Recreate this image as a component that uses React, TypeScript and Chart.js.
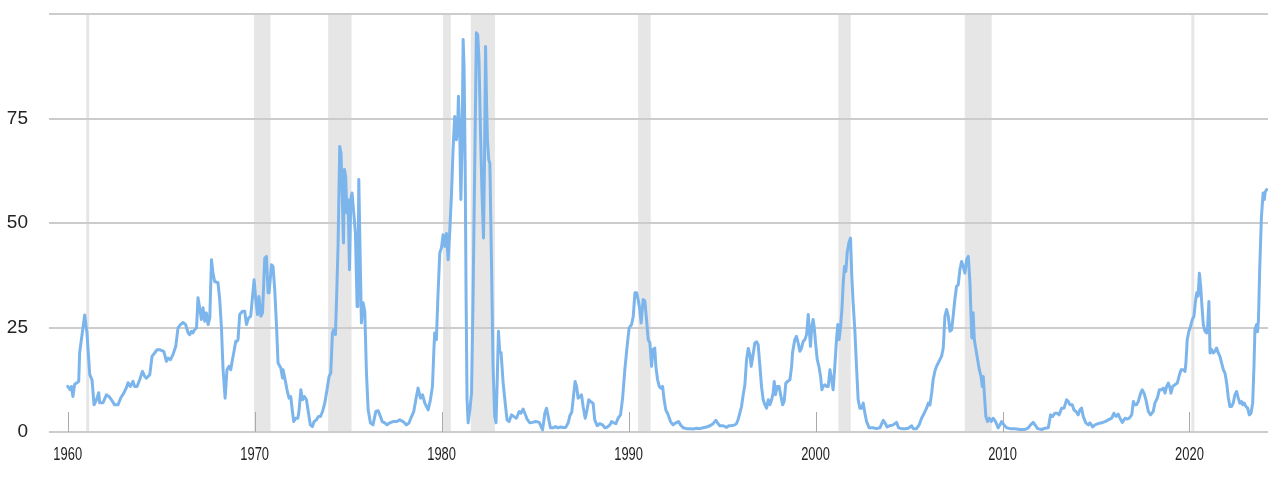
import React, { useEffect, useRef } from 'react';
import { Chart, registerables } from 'chart.js';

Chart.register(...registerables);

const YEARS = [
  1960.00, 1960.14, 1960.20, 1960.28, 1960.37, 1960.50, 1960.59, 1960.64, 1960.73, 1960.91,
  1961.03, 1961.18, 1961.30, 1961.41, 1961.54, 1961.66, 1961.71, 1961.89, 1962.07, 1962.21,
  1962.34, 1962.51, 1962.69, 1962.84, 1963.00, 1963.14, 1963.23, 1963.35, 1963.49, 1963.58,
  1963.71, 1963.85, 1964.00, 1964.12, 1964.21, 1964.39, 1964.51, 1964.65, 1964.78, 1964.92,
  1965.01, 1965.14, 1965.28, 1965.37, 1965.50, 1965.63, 1965.78, 1965.90, 1966.03, 1966.17,
  1966.31, 1966.44, 1966.53, 1966.62, 1966.70, 1966.79, 1966.89, 1966.97, 1967.06, 1967.15,
  1967.24, 1967.33, 1967.42, 1967.51, 1967.60, 1967.69, 1967.77, 1967.86, 1968.04, 1968.13,
  1968.22, 1968.31, 1968.42, 1968.52, 1968.63, 1968.72, 1968.81, 1968.88, 1968.99, 1969.06,
  1969.11, 1969.20, 1969.35, 1969.47, 1969.56, 1969.68, 1969.79, 1969.97, 1970.06, 1970.15,
  1970.23, 1970.33, 1970.42, 1970.54, 1970.63, 1970.72, 1970.77, 1970.90, 1970.98, 1971.07,
  1971.17, 1971.25, 1971.40, 1971.49, 1971.52, 1971.63, 1971.73, 1971.84, 1971.93, 1972.02,
  1972.09, 1972.20, 1972.31, 1972.37, 1972.47, 1972.56, 1972.66, 1972.77, 1972.88, 1972.98,
  1973.09, 1973.18, 1973.30, 1973.41, 1973.52, 1973.63, 1973.75, 1973.87, 1973.98, 1974.07,
  1974.16, 1974.23, 1974.32, 1974.38, 1974.46, 1974.55, 1974.62, 1974.70, 1974.75, 1974.80,
  1974.87, 1974.93, 1975.00, 1975.07, 1975.14, 1975.21, 1975.30, 1975.39, 1975.48, 1975.52,
  1975.57, 1975.64, 1975.71, 1975.80, 1975.89, 1975.98, 1976.07, 1976.19, 1976.33, 1976.48,
  1976.60, 1976.73, 1976.82, 1976.96, 1977.08, 1977.23, 1977.40, 1977.59, 1977.76, 1977.94,
  1978.12, 1978.26, 1978.39, 1978.51, 1978.62, 1978.74, 1978.87, 1978.98, 1979.10, 1979.28,
  1979.40, 1979.51, 1979.58, 1979.63, 1979.72, 1979.81, 1979.90, 1979.99, 1980.08, 1980.17,
  1980.26, 1980.35, 1980.44, 1980.53, 1980.61, 1980.70, 1980.79, 1980.85, 1980.90, 1980.97,
  1981.03, 1981.10, 1981.15, 1981.20, 1981.26, 1981.31, 1981.36, 1981.42, 1981.51, 1981.60,
  1981.68, 1981.77, 1981.86, 1981.93, 1982.00, 1982.08, 1982.17, 1982.24, 1982.29, 1982.35,
  1982.40, 1982.45, 1982.52, 1982.58, 1982.67, 1982.75, 1982.84, 1982.91, 1982.97, 1983.04,
  1983.11, 1983.18, 1983.29, 1983.42, 1983.50, 1983.61, 1983.74, 1983.86, 1984.00, 1984.15,
  1984.24, 1984.36, 1984.45, 1984.57, 1984.72, 1984.86, 1985.04, 1985.22, 1985.40, 1985.52,
  1985.61, 1985.72, 1985.82, 1985.96, 1986.09, 1986.23, 1986.36, 1986.50, 1986.64, 1986.77,
  1986.86, 1986.96, 1987.07, 1987.14, 1987.22, 1987.30, 1987.39, 1987.48, 1987.57, 1987.68,
  1987.78, 1987.87, 1987.96, 1988.10, 1988.19, 1988.32, 1988.46, 1988.61, 1988.73, 1988.87,
  1989.00, 1989.09, 1989.21, 1989.32, 1989.44, 1989.57, 1989.68, 1989.80, 1989.92, 1990.03,
  1990.16, 1990.25, 1990.34, 1990.43, 1990.51, 1990.60, 1990.67, 1990.78, 1990.87, 1990.96,
  1991.05, 1991.14, 1991.23, 1991.31, 1991.40, 1991.46, 1991.55, 1991.64, 1991.73, 1991.82,
  1991.90, 1991.99, 1992.12, 1992.24, 1992.38, 1992.53, 1992.67, 1992.78, 1992.92, 1993.10,
  1993.28, 1993.45, 1993.64, 1993.81, 1993.99, 1994.17, 1994.35, 1994.52, 1994.67, 1994.76,
  1994.88, 1995.06, 1995.24, 1995.36, 1995.51, 1995.68, 1995.77, 1995.86, 1995.95, 1996.04,
  1996.13, 1996.22, 1996.31, 1996.40, 1996.49, 1996.56, 1996.66, 1996.75, 1996.85, 1996.93,
  1997.02, 1997.11, 1997.20, 1997.29, 1997.38, 1997.47, 1997.56, 1997.65, 1997.73, 1997.79,
  1997.86, 1997.95, 1998.05, 1998.15, 1998.24, 1998.32, 1998.41, 1998.50, 1998.63, 1998.72,
  1998.77, 1998.89, 1998.98, 1999.07, 1999.16, 1999.25, 1999.34, 1999.43, 1999.52, 1999.61,
  1999.66, 1999.73, 1999.80, 1999.87, 1999.93, 2000.00, 2000.09, 2000.18, 2000.27, 2000.34,
  2000.41, 2000.50, 2000.59, 2000.68, 2000.77, 2000.86, 2000.94, 2001.03, 2001.12, 2001.19,
  2001.26, 2001.34, 2001.41, 2001.48, 2001.55, 2001.62, 2001.69, 2001.78, 2001.87, 2001.94,
  2002.01, 2002.10, 2002.19, 2002.28, 2002.37, 2002.46, 2002.55, 2002.64, 2002.73, 2002.87,
  2003.08, 2003.26, 2003.44, 2003.62, 2003.71, 2003.83, 2003.98, 2004.15, 2004.33, 2004.44,
  2004.60, 2004.78, 2004.96, 2005.14, 2005.22, 2005.40, 2005.54, 2005.67, 2005.81, 2005.94,
  2006.03, 2006.12, 2006.21, 2006.29, 2006.38, 2006.47, 2006.56, 2006.65, 2006.74, 2006.83,
  2006.92, 2007.01, 2007.10, 2007.19, 2007.28, 2007.36, 2007.45, 2007.54, 2007.63, 2007.72,
  2007.81, 2007.90, 2007.99, 2008.08, 2008.17, 2008.26, 2008.31, 2008.36, 2008.43, 2008.49,
  2008.58, 2008.67, 2008.76, 2008.85, 2008.92, 2008.97, 2009.02, 2009.11, 2009.20, 2009.29,
  2009.40, 2009.50, 2009.63, 2009.77, 2009.86, 2009.95, 2010.08, 2010.22, 2010.40, 2010.66,
  2010.93, 2011.20, 2011.38, 2011.50, 2011.64, 2011.77, 2011.88, 2012.09, 2012.27, 2012.45,
  2012.57, 2012.68, 2012.80, 2012.93, 2013.03, 2013.16, 2013.29, 2013.43, 2013.52, 2013.61,
  2013.73, 2013.82, 2013.93, 2014.05, 2014.14, 2014.23, 2014.32, 2014.45, 2014.59, 2014.68,
  2014.82, 2014.94, 2015.12, 2015.30, 2015.48, 2015.66, 2015.84, 2015.96, 2016.07, 2016.19,
  2016.28, 2016.41, 2016.55, 2016.67, 2016.78, 2016.91, 2017.00, 2017.08, 2017.17, 2017.26,
  2017.39, 2017.47, 2017.57, 2017.67, 2017.80, 2017.92, 2018.06, 2018.15, 2018.28, 2018.39,
  2018.51, 2018.60, 2018.69, 2018.78, 2018.87, 2018.96, 2019.01, 2019.10, 2019.22, 2019.35,
  2019.44, 2019.55, 2019.67, 2019.76, 2019.81, 2019.88, 2019.97, 2020.06, 2020.15, 2020.24,
  2020.31, 2020.39, 2020.46, 2020.53, 2020.60, 2020.67, 2020.74, 2020.83, 2020.92, 2020.97,
  2021.04, 2021.10, 2021.19, 2021.27, 2021.36, 2021.45, 2021.54, 2021.63, 2021.72, 2021.81,
  2021.90, 2021.99, 2022.07, 2022.16, 2022.25, 2022.34, 2022.43, 2022.52, 2022.61, 2022.70,
  2022.79, 2022.85, 2022.93, 2023.02, 2023.11, 2023.20, 2023.29, 2023.38, 2023.45, 2023.50,
  2023.59, 2023.64, 2023.69, 2023.76, 2023.85, 2023.94, 2024.00, 2024.05, 2024.13,
];

const VALUES = [
  10.9, 10.1, 10.9, 8.5, 11.4, 11.8, 12.1, 19.0, 22.0, 28.0,
  23.7, 13.7, 12.5, 6.5, 7.7, 9.4, 7.0, 7.0, 8.9, 8.5,
  7.7, 6.5, 6.5, 8.2, 9.3, 10.6, 11.8, 10.9, 12.1, 10.9,
  10.9, 12.5, 14.5, 13.3, 12.9, 13.7, 18.1, 18.9, 19.7, 19.7,
  19.5, 19.3, 16.9, 17.7, 17.3, 18.5, 20.5, 24.9, 25.7, 26.2,
  25.7, 23.7, 23.3, 24.1, 23.7, 24.5, 24.9, 32.1, 29.7, 26.9,
  29.7, 26.5, 28.5, 25.7, 27.3, 41.2, 38.0, 36.0, 35.7, 31.7,
  25.3, 14.9, 8.1, 14.9, 15.7, 14.9, 17.3, 18.9, 21.7, 21.7,
  22.1, 28.1, 28.9, 28.9, 25.7, 27.3, 27.7, 36.4, 31.7, 28.1,
  32.4, 27.7, 28.5, 41.6, 42.0, 33.3, 33.3, 40.0, 39.6, 34.4,
  25.3, 16.5, 15.3, 12.9, 14.9, 12.5, 10.1, 8.1, 8.5, 4.9,
  2.5, 3.3, 3.3, 4.9, 10.1, 7.7, 8.5, 7.7, 4.5, 1.7,
  1.3, 2.5, 2.9, 3.7, 3.7, 4.9, 6.9, 10.1, 13.3, 14.1,
  23.7, 24.5, 23.3, 31.7, 44.4, 68.3, 66.7, 54.0, 45.2, 62.8,
  61.0, 52.4, 55.5, 38.8, 55.6, 57.2, 52.4, 47.6, 30.0, 32.0,
  60.4, 42.8, 26.1, 30.9, 28.9, 14.1, 5.3, 2.2, 1.7, 4.9,
  5.1, 3.7, 2.5, 2.2, 1.7, 2.2, 2.5, 2.5, 2.9, 2.5,
  1.7, 2.2, 3.7, 4.9, 7.7, 10.5, 8.1, 8.9, 6.9, 5.3,
  7.7, 10.9, 19.0, 23.7, 22.1, 33.3, 42.8, 44.0, 47.2, 44.4,
  47.5, 41.2, 48.4, 57.2, 67.5, 75.5, 69.9, 72.0, 80.3, 71.5,
  55.6, 69.9, 93.9, 87.5, 63.5, 31.7, 7.7, 2.2, 5.3, 9.3,
  31.7, 63.5, 95.5, 95.0, 89.0, 71.5, 55.6, 46.4, 63.5, 92.2,
  79.5, 69.9, 65.1, 64.3, 39.6, 15.7, 3.7, 2.2, 11.7, 24.1,
  19.0, 19.0, 11.7, 6.1, 2.9, 2.5, 4.1, 3.7, 3.3, 4.9,
  4.5, 5.5, 4.5, 3.1, 2.2, 2.3, 2.5, 2.3, 0.5, 4.5,
  5.7, 3.3, 1.0, 1.0, 1.3, 1.0, 1.2, 1.1, 1.1, 2.2,
  3.9, 4.7, 9.3, 12.1, 10.9, 8.1, 8.5, 8.9, 6.1, 3.3,
  5.3, 7.7, 7.3, 6.9, 2.9, 1.5, 2.0, 1.7, 1.0, 1.2,
  1.7, 2.5, 2.2, 2.0, 3.3, 4.1, 8.1, 14.9, 20.5, 24.9,
  25.7, 27.7, 33.3, 33.3, 31.7, 29.3, 26.1, 31.7, 31.3, 26.9,
  22.1, 21.3, 15.7, 19.7, 20.1, 15.7, 12.5, 10.9, 10.5, 10.9,
  7.7, 5.3, 4.1, 2.5, 1.7, 2.2, 2.5, 1.7, 1.0, 0.8,
  0.8, 0.7, 0.9, 0.8, 1.0, 1.2, 1.5, 2.0, 2.8, 2.2,
  1.5, 1.5, 1.1, 1.5, 1.5, 1.7, 2.0, 3.0, 4.5, 6.1,
  8.9, 11.3, 17.3, 20.0, 18.5, 15.7, 18.5, 21.3, 21.6, 20.9,
  16.0, 10.9, 7.7, 6.5, 5.7, 7.7, 6.5, 7.7, 9.3, 12.1,
  8.9, 10.9, 10.9, 8.5, 6.5, 7.3, 11.7, 12.1, 12.5, 15.7,
  19.0, 22.1, 22.9, 21.3, 19.3, 20.1, 21.7, 22.1, 23.3, 28.1,
  24.5, 20.5, 25.3, 26.9, 25.0, 21.3, 17.3, 15.7, 13.3, 10.1,
  10.9, 11.3, 10.9, 10.9, 14.9, 12.5, 10.1, 15.7, 22.1, 25.7,
  22.1, 25.3, 29.3, 35.6, 39.6, 38.4, 42.8, 45.2, 46.4, 37.2,
  30.9, 24.5, 15.7, 7.7, 5.7, 5.7, 6.9, 4.5, 2.5, 1.0,
  1.0, 0.8, 1.0, 2.8, 2.2, 1.2, 1.5, 1.7, 2.3, 1.0,
  0.8, 0.8, 0.9, 1.5, 0.8, 0.8, 1.7, 3.3, 4.5, 5.7,
  6.9, 6.5, 9.3, 12.5, 14.5, 15.7, 16.5, 17.3, 18.1, 20.1,
  27.7, 29.3, 27.7, 24.1, 24.5, 27.7, 31.7, 34.8, 35.2, 38.8,
  40.8, 39.6, 38.0, 41.2, 42.0, 35.6, 28.5, 22.5, 28.5, 22.1,
  19.7, 17.3, 14.9, 13.3, 10.9, 13.3, 9.7, 3.7, 2.5, 3.3,
  2.5, 3.3, 2.5, 1.0, 1.7, 2.5, 1.7, 1.0, 0.8, 0.8,
  0.6, 0.6, 1.0, 1.7, 2.3, 1.5, 0.8, 0.6, 0.9, 1.0,
  4.1, 3.7, 4.5, 4.5, 4.1, 5.7, 5.7, 7.7, 7.3, 6.5,
  6.5, 5.3, 4.9, 4.1, 5.3, 5.7, 3.7, 2.2, 1.7, 2.2,
  1.2, 1.7, 2.0, 2.2, 2.5, 2.9, 3.3, 4.5, 3.7, 4.3,
  3.3, 2.3, 3.3, 3.1, 3.3, 4.1, 7.3, 6.5, 6.5, 7.3,
  9.3, 10.1, 9.3, 7.7, 4.9, 4.1, 4.9, 6.9, 8.1, 10.1,
  10.1, 10.5, 9.3, 10.9, 11.7, 10.5, 9.3, 10.9, 11.3, 11.7,
  13.3, 14.9, 14.9, 14.5, 16.5, 22.1, 24.1, 25.3, 26.9, 27.7,
  30.9, 33.3, 32.5, 38.0, 34.8, 30.0, 25.7, 24.1, 23.7, 25.3,
  31.2, 18.9, 19.7, 18.9, 19.3, 20.1, 18.9, 18.1, 16.5, 14.9,
  14.1, 11.7, 8.5, 6.1, 6.1, 6.9, 8.9, 9.7, 8.1, 6.9,
  7.3, 6.5, 6.9, 6.1, 5.7, 4.1, 4.5, 6.9, 15.7, 24.5,
  25.7, 24.0, 26.9, 39.6, 51.6, 57.2, 55.6, 57.4, 58.0,
];

const X_TICKS = [1960, 1970, 1980, 1990, 2000, 2010, 2020];
const Y_TICKS = [0, 25, 50, 75, 100];

const RECESSION_START = [1960.99, 1969.97, 1973.93, 1980.08, 1981.56, 1990.51, 2001.22, 2007.98, 2020.10];
const RECESSION_END = [1961.15, 1970.85, 1975.18, 1980.49, 1982.85, 1991.18, 2001.88, 2009.42, 2020.26];

export default function App() {
  const ref = useRef<HTMLCanvasElement | null>(null);

  useEffect(() => {
    document.body.style.margin = '0';
    const canvas = ref.current;
    if (!canvas) return;

    const decorPlugin = {
      id: 'decor',
      beforeDraw(chart: any) {
        const { ctx, chartArea, scales } = chart;
        const xs = scales.x;
        ctx.save();
        ctx.fillStyle = '#e6e6e6';
        RECESSION_START.forEach((s, i) => {
          const a = xs.getPixelForValue(s);
          const b = xs.getPixelForValue(RECESSION_END[i]);
          ctx.fillRect(a, chartArea.top, Math.max(b - a, 2), chartArea.bottom - chartArea.top);
        });
        ctx.restore();
      },
      beforeDatasetsDraw(chart: any) {
        const { ctx, chartArea, scales } = chart;
        const xs = scales.x;
        ctx.save();
        ctx.strokeStyle = '#aaaaaa';
        ctx.lineWidth = 1;
        X_TICKS.forEach((t) => {
          const px = Math.round(xs.getPixelForValue(t)) + 0.5;
          ctx.beginPath();
          ctx.moveTo(px, chartArea.bottom - 20);
          ctx.lineTo(px, chartArea.bottom);
          ctx.stroke();
        });
        ctx.restore();
      },
      afterDraw(chart: any) {
        const { ctx, chartArea, scales } = chart;
        const xs = scales.x;
        ctx.save();
        ctx.font = '19px "Liberation Sans", Arial, sans-serif';
        ctx.fillStyle = '#222222';
        ctx.textAlign = 'center';
        ctx.textBaseline = 'middle';
        X_TICKS.forEach((t) => {
          const px = xs.getPixelForValue(t);
          ctx.save();
          ctx.translate(px, chartArea.bottom + 23);
          ctx.scale(0.68, 1);
          ctx.fillText(String(t), 0, 0);
          ctx.restore();
        });
        ctx.restore();
      },
    };

    const chart = new Chart(canvas, {
      type: 'line',
      data: {
        datasets: [
          {
            data: YEARS.map((x, i) => ({ x, y: VALUES[i] })),
            borderColor: '#7cb5ec',
            borderWidth: 3,
            borderJoinStyle: 'round',
            borderCapStyle: 'round',
            pointRadius: 0,
            tension: 0,
            fill: false,
          },
        ],
      },
      options: {
        responsive: false,
        devicePixelRatio: 1,
        animation: false,
        layout: { padding: { top: 14, right: 10, left: 0, bottom: 0 } },
        plugins: { legend: { display: false }, tooltip: { enabled: false } },
        scales: {
          x: {
            type: 'linear',
            min: 1959,
            max: 2024.2,
            grid: { display: false },
            border: { display: false },
            ticks: { display: false },
            afterBuildTicks: (s: any) => {
              s.ticks = X_TICKS.map((v) => ({ value: v }));
            },
            afterFit: (s: any) => {
              s.height = 54;
              s.paddingLeft = 0;
              s.paddingRight = 0;
            },
          },
          y: {
            min: 0,
            max: 100,
            afterBuildTicks: (s: any) => {
              s.ticks = Y_TICKS.map((v) => ({ value: v }));
            },
            ticks: {
              callback: (v: any) => (v === 100 ? '' : String(v)),
              font: { family: '"Liberation Sans", Arial, sans-serif', size: 19 },
              color: '#222222',
              padding: 21,
            },
            grid: { color: '#cccccc', lineWidth: 2, drawTicks: false },
            border: { display: false },
            afterFit: (s: any) => {
              s.width = 49;
              s.paddingTop = 0;
              s.paddingBottom = 0;
            },
          },
        },
      },
      plugins: [decorPlugin],
    });

    return () => chart.destroy();
  }, []);

  return (
    <canvas
      ref={ref}
      width={1278}
      height={486}
      style={{ display: 'block', width: '1278px', height: '486px' }}
    />
  );
}
